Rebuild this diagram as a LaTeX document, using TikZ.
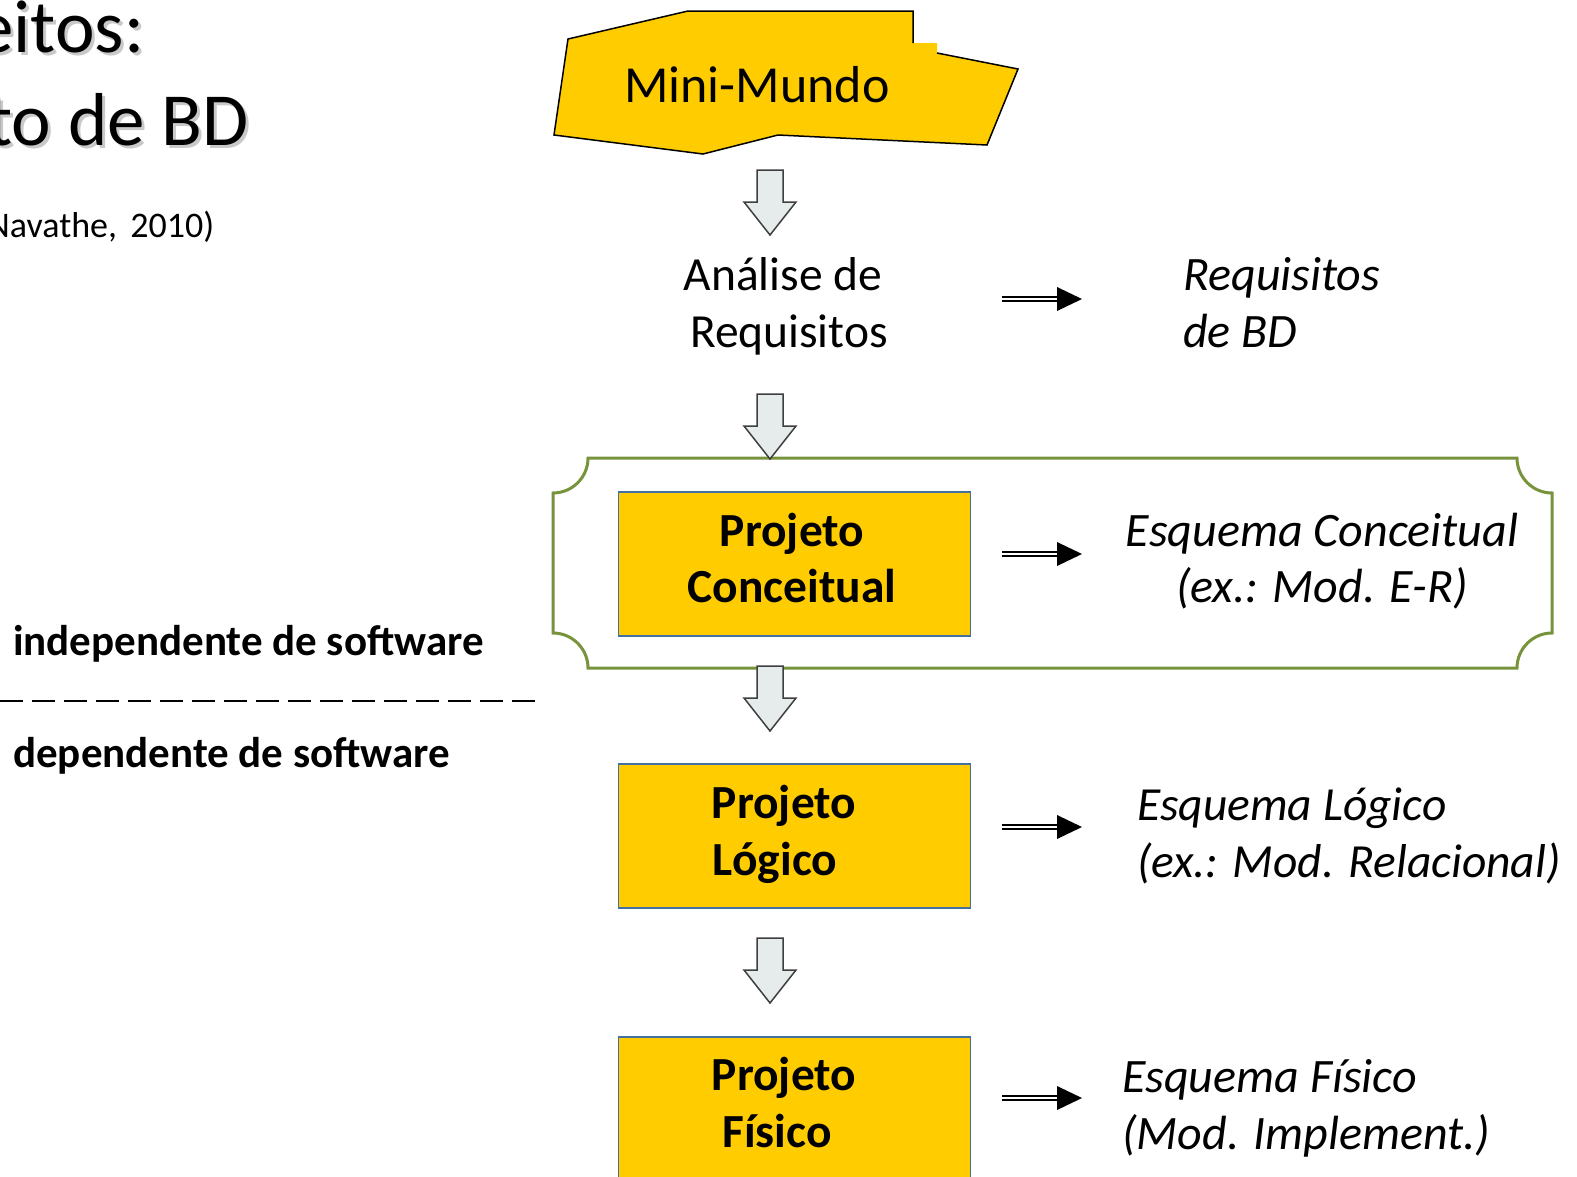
\documentclass[tikz,border=0pt]{standalone}
\usepackage{fontspec}
\setmainfont{Carlito}
\definecolor{gold}{HTML}{FFCC00}
\definecolor{boxblue}{HTML}{41719C}
\definecolor{olive}{HTML}{77933C}
\definecolor{arrowfill}{HTML}{E6ECEC}
\definecolor{arrowline}{HTML}{3F3F3F}
\begin{document}
\begin{tikzpicture}[x=1pt,y=-1pt,
  txt/.style={inner sep=0pt, anchor=base, font=\fontsize{47.5}{57}\selectfont},
  itx/.style={inner sep=0pt, anchor=base west, font=\fontsize{48}{57}\selectfont\itshape},
  itc/.style={inner sep=0pt, anchor=base, font=\fontsize{48}{57}\selectfont\itshape},
  bld/.style={inner sep=0pt, anchor=base, font=\fontsize{47.5}{57}\selectfont\bfseries},
  side/.style={inner sep=0pt, anchor=base west, font=\fontsize{43}{50}\selectfont\bfseries},
  title/.style={inner sep=0pt, anchor=base west, font=\fontsize{75}{90}\selectfont},
  stagebox/.style={draw=boxblue, fill=gold, line width=1.5pt, minimum width=352pt, anchor=north west, inner sep=0pt},
  frameline/.style={draw=olive, line width=3pt},
  dblline/.style={double, double distance=2pt, line width=2pt},
  sepline/.style={line width=2.5pt, dash pattern=on 23pt off 9pt},
  blockdown/.pic={
    \filldraw[fill=arrowfill, draw=arrowline, line width=1.5pt, line join=miter]
      (-13,0) -- (13,0) -- (13,32) -- (26,32) -- (0,65) -- (-26,32) -- (-13,32) -- cycle;
  }
]
\useasboundingbox (0,0) rectangle (1577,1176);
\fill[white] (0,0) rectangle (1577,1176);

% --- title block on the left (with a soft text shadow) ---
\node[title, text=black!35, opacity=0.6] at (-21,55) {eitos:};
\node[title] (t1) at (-24,52) {eitos:};
\node[title, text=black!35, opacity=0.6] at (-10,148) {to de BD};
\node[title] (t2) at (-13,145) {to de BD};
\node[inner sep=0pt, anchor=base west, font=\fontsize{36}{42}\selectfont] (ref) at (-13.5,237) {Navathe,\hspace{5pt} 2010)};

% --- software (in)dependence separator ---
\node[side] (indep) at (13,655) {independente de software};
\coordinate (sepL) at (0,701);
\coordinate (sepR) at (541,701);
\draw[sepline] (sepL) -- (sepR);
\node[side] (dep) at (13,767) {dependente de software};

% --- Mini-Mundo blob ---
\fill[gold] (568,39) -- (688,11) -- (913,11) -- (913,43) -- (937,43) -- (937,53)
  -- (1018,69) -- (987,145) -- (778,135) -- (703,154) -- (554,135) -- cycle;
\draw[line width=1.5pt, line join=miter] (913,43) -- (913,11) -- (688,11) -- (568,39)
  -- (554,135) -- (703,154) -- (778,135) -- (987,145) -- (1018,69) -- (937,53);
\node[inner sep=0pt, anchor=base, font=\fontsize{52}{62}\selectfont] (mm) at (757,102) {Mini-Mundo};

% --- frame around the conceptual stage ---
\path[frameline] (588,458) -- (1517,458)
  .. controls (1517,477.3) and (1532.7,493) .. (1552,493) -- (1552,633)
  .. controls (1532.7,633) and (1517,648.7) .. (1517,668) -- (588,668)
  .. controls (588,648.7) and (572.3,633) .. (553,633) -- (553,493)
  .. controls (572.3,493) and (588,477.3) .. (588,458) -- cycle;

% --- stage boxes ---
\node[stagebox, minimum height=144pt] (conc) at (617.5,491) {};
\node[stagebox, minimum height=144pt] (logi) at (617.5,763) {};
\node[stagebox, minimum height=170pt] (fisi) at (617.5,1036) {};

% --- down arrows between stages ---
\pic at (770,170) {blockdown};
\pic at (770,394) {blockdown};
\pic at (770,666) {blockdown};
\pic at (770,938) {blockdown};

% --- stage labels ---
\node[txt] (an1) at (783,290) {Análise de};
\node[txt] (an2) at (789,347) {Requisitos};
\node[bld] (pc1) at (792,546) {Projeto};
\node[bld] (pc2) at (792,602) {Conceitual};
\node[bld] (pl1) at (784,818) {Projeto};
\node[bld, anchor=base west] (pl2) at (712,875) {Lógico};
\node[bld] (pf1) at (784,1090) {Projeto};
\node[bld] (pf2) at (777,1147) {Físico};

% --- products of each stage ---
\node[itx] (r1) at (1183,290) {Requisitos};
\node[itx] (r2) at (1183,347) {de BD};
\node[itc] (ec1) at (1322,546) {Esquema Conceitual};
\node[itc] (ec2) at (1322,602) {(ex.: Mod. E-R)};
\node[itx, font=\fontsize{47.5}{57}\selectfont\itshape] (el1) at (1137,820) {Esquema Lógico};
\node[itx, font=\fontsize{47.5}{57}\selectfont\itshape] (el2) at (1137,877) {(ex.: Mod. Relacional)};
\node[itx] (ef1) at (1122,1092) {Esquema Físico};
\node[itx] (ef2) at (1122,1149) {(Mod. Implement.)};

% --- double arrows: stage -> product ---
\foreach \n/\y in {a/299, b/554, c/827, d/1098}{
  \coordinate (\n s) at (1002,\y);
  \coordinate (\n e) at (1082,\y);
  \draw[dblline] (\n s) -- ([xshift=-22pt]\n e);
  \fill (\n e) -- ++(-25,-12) -- ++(0,24) -- cycle;
}
\end{tikzpicture}
\end{document}
